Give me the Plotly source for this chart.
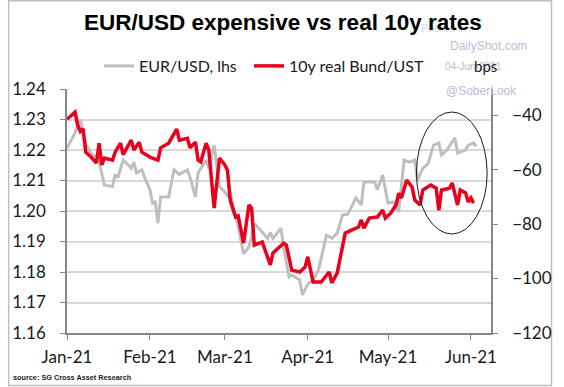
import plotly.graph_objects as go

# EUR/USD (left axis)
eur_dates = ["2021-01-01","2021-01-04","2021-01-06","2021-01-08","2021-01-10","2021-01-12","2021-01-13",
             "2021-01-15","2021-01-18","2021-01-19","2021-01-20","2021-01-22","2021-01-24","2021-01-25",
             "2021-01-26","2021-01-27","2021-01-29","2021-01-30","2021-02-01","2021-02-02","2021-02-03",
             "2021-02-04","2021-02-05","2021-02-08","2021-02-10","2021-02-12","2021-02-15","2021-02-16",
             "2021-02-18","2021-02-19","2021-02-22","2021-02-23","2021-02-25","2021-02-27","2021-03-01",
             "2021-03-02","2021-03-03","2021-03-06","2021-03-08","2021-03-10","2021-03-11","2021-03-12",
             "2021-03-15","2021-03-17","2021-03-18","2021-03-19","2021-03-22","2021-03-23","2021-03-25",
             "2021-03-26","2021-03-29","2021-03-30","2021-04-01","2021-04-03","2021-04-05","2021-04-08",
             "2021-04-10","2021-04-12","2021-04-14","2021-04-16","2021-04-19","2021-04-21","2021-04-22",
             "2021-04-26","2021-04-27","2021-04-29","2021-05-01","2021-05-03","2021-05-05","2021-05-07",
             "2021-05-09","2021-05-11","2021-05-12","2021-05-14","2021-05-16","2021-05-18","2021-05-20",
             "2021-05-21","2021-05-23","2021-05-26","2021-05-27","2021-05-30","2021-05-31","2021-06-02",
             "2021-06-03"]
eur_usd = [1.2206,1.2256,1.2300,1.2220,1.2190,1.2175,1.2160,
           1.2085,1.2080,1.2120,1.2110,1.2167,1.2150,1.2140,
           1.2160,1.2125,1.2135,1.2110,1.2070,1.2026,1.2030,
           1.1960,1.2046,1.2046,1.2135,1.2120,1.2135,1.2110,
           1.2046,1.2125,1.2167,1.2140,1.2216,1.2080,1.2062,
           1.2050,1.2060,1.1948,1.1860,1.1882,1.1915,1.1960,
           1.1930,1.1910,1.1930,1.1910,1.1944,1.1880,1.1784,
           1.1790,1.1774,1.1725,1.1760,1.1774,1.1806,1.1921,
           1.1910,1.1928,1.1987,1.1990,1.2043,1.2020,1.2095,
           1.2095,1.2070,1.2118,1.2026,1.2030,1.1997,1.2167,
           1.2160,1.2167,1.2101,1.2140,1.2155,1.2216,1.2223,
           1.2184,1.2200,1.2240,1.2190,1.2200,1.2216,1.2223,
           1.2212]

# 10y real Bund/UST spread, bps (right axis)
bund_dates = ["2021-01-01","2021-01-04","2021-01-05","2021-01-06","2021-01-07","2021-01-08","2021-01-10",
              "2021-01-12","2021-01-13","2021-01-14","2021-01-15","2021-01-18","2021-01-19","2021-01-21",
              "2021-01-22","2021-01-25","2021-01-26","2021-01-28","2021-01-29","2021-02-01","2021-02-04",
              "2021-02-05","2021-02-08","2021-02-11","2021-02-12","2021-02-15","2021-02-16","2021-02-18",
              "2021-02-19","2021-02-20","2021-02-22","2021-02-23","2021-02-25","2021-02-27","2021-03-01",
              "2021-03-02","2021-03-03","2021-03-05","2021-03-06","2021-03-08","2021-03-10","2021-03-11",
              "2021-03-12","2021-03-15","2021-03-18","2021-03-19","2021-03-23","2021-03-24","2021-03-26",
              "2021-03-29","2021-03-31","2021-04-01","2021-04-03","2021-04-06","2021-04-09","2021-04-10",
              "2021-04-12","2021-04-13","2021-04-15","2021-04-20","2021-04-21","2021-04-22","2021-04-24",
              "2021-04-27","2021-04-29","2021-04-30","2021-05-02","2021-05-04","2021-05-05","2021-05-06",
              "2021-05-08","2021-05-10","2021-05-11","2021-05-13","2021-05-14","2021-05-17","2021-05-19",
              "2021-05-20","2021-05-21","2021-05-24","2021-05-25","2021-05-27","2021-05-28","2021-05-30",
              "2021-05-31","2021-06-01","2021-06-02"]
bund_ust = [-41.5,-38.9,-43.7,-46.0,-45.0,-53.6,-55.4,
            -57.6,-50.3,-58.3,-55.8,-56.5,-53.6,-50.3,
            -54.5,-49.2,-52.8,-50.0,-53.6,-55.4,-56.5,
            -52.0,-50.3,-45.1,-49.2,-48.5,-52.0,-49.9,
            -56.5,-57.2,-50.3,-52.8,-74.1,-55.8,-58.3,
            -60.2,-71.2,-77.4,-77.0,-87.0,-73.0,-74.1,
            -87.7,-86.6,-95.0,-90.6,-87.0,-87.7,-96.9,
            -97.6,-95.8,-92.0,-101.3,-101.3,-97.6,-101.6,
            -98.0,-93.2,-83.3,-81.1,-78.5,-81.5,-77.8,
            -77.4,-74.9,-77.8,-76.0,-73.0,-68.6,-70.4,
            -63.8,-66.4,-71.2,-73.0,-67.5,-65.7,-66.8,
            -74.9,-67.5,-66.8,-64.9,-73.0,-67.5,-68.6,
            -71.9,-70.4,-72.3]

left_ticks = [1.16,1.17,1.18,1.19,1.20,1.21,1.22,1.23,1.24]
right_ticks = [-120,-100,-80,-60,-40]
month_ticks = ["2021-01-01","2021-02-01","2021-03-01","2021-04-01","2021-05-01","2021-06-01"]
month_labels = ["Jan-21","Feb-21","Mar-21","Apr-21","May-21","Jun-21"]

W, H = 564, 387
L, R, T, B = 61, 65, 89, 54
pw, ph = W - L - R, H - T - B

def px(x):
    return (x - L) / pw

def py(y):
    return (H - B - y) / ph

LAB = "Lato"
fig = go.Figure()
fig.add_trace(go.Scatter(x=eur_dates, y=eur_usd, name="EUR/USD, lhs", mode="lines",
                         line=dict(color="#BFBFBF", width=3), yaxis="y", legend="legend"))
fig.add_trace(go.Scatter(x=bund_dates, y=bund_ust, name="10y real Bund/UST", mode="lines",
                         line=dict(color="#E8001C", width=3.5), yaxis="y2", legend="legend2"))

axcol = "#868686"
tf = dict(family=LAB, size=17, color="#1a1a1a")
lg = dict(orientation="h", xanchor="left", yanchor="middle", y=py(66),
          font=dict(family=LAB, size=16, color="#1a1a1a"), bgcolor="rgba(0,0,0,0)")
fig.update_layout(
    width=W, height=H,
    margin=dict(l=L, r=R, t=T, b=B, pad=0),
    paper_bgcolor="white", plot_bgcolor="white",
    font=dict(family=LAB, size=15, color="#1a1a1a"),
    showlegend=True,
    legend=dict(x=px(94), **lg),
    legend2=dict(x=px(249), **lg),
    xaxis=dict(type="date", range=["2021-01-01", "2021-06-08 12:00"],
               tickvals=month_ticks, ticktext=month_labels, showgrid=False,
               showline=True, linecolor=axcol, linewidth=1.5, ticks="outside",
               ticklen=5, tickcolor=axcol, tickfont=tf, ticklabelstandoff=3, zeroline=False),
    yaxis=dict(range=[1.16, 1.24], tickvals=left_ticks, tickformat=".2f",
               showgrid=True, gridcolor="#D9D9D9", gridwidth=1.5,
               showline=True, linecolor=axcol, linewidth=1.5, ticks="outside",
               ticklen=5, tickcolor=axcol, tickfont=tf, ticklabelstandoff=11, zeroline=False),
    yaxis2=dict(range=[-120, -30.4], tickvals=right_ticks, overlaying="y", side="right",
                showgrid=False, showline=True, linecolor=axcol, linewidth=1.5,
                ticks="outside", ticklen=5, tickcolor=axcol,
                tickfont=tf, ticklabelstandoff=11, zeroline=False),
)

# outer border
fig.add_shape(type="rect", xref="paper", yref="paper",
              x0=px(0.75), x1=px(561.5), y0=py(385.5), y1=py(0.75),
              line=dict(color="#BFBFBF", width=1.5), layer="below")
# ellipse highlight
fig.add_shape(type="circle", xref="paper", yref="paper",
              x0=px(422), x1=px(495), y0=py(234), y1=py(112),
              line=dict(color="#1a1a1a", width=1))

wm = "#B7BDD3"
anns = [
    dict(text="Posted on", x=px(452), y=py(28), font=dict(family="Liberation Sans", size=11, color="#D5D8E4")),
    dict(text="<b>EUR/USD expensive vs real 10y rates</b>", x=px(284), y=py(22),
         font=dict(family="Liberation Sans", size=22.5, color="#000000")),
    dict(text="DailyShot.com", x=px(496), y=py(46), font=dict(family="Liberation Sans", size=12, color=wm)),
    dict(text="04-Jun-2021", x=px(481), y=py(66), font=dict(family="Liberation Sans", size=10, color=wm)),
    dict(text="bps", x=px(493), y=py(66), font=dict(family=LAB, size=15, color="#1a1a1a")),
    dict(text="@SoberLook", x=px(489), y=py(91), font=dict(family="Liberation Sans", size=12, color=wm)),
]
for a in anns:
    fig.add_annotation(xref="paper", yref="paper", showarrow=False, xanchor="center", yanchor="middle", **a)
fig.add_annotation(xref="paper", yref="paper", showarrow=False, xanchor="left", yanchor="middle",
                   x=px(3), y=py(377), text="<b>source: SG Cross Asset Research</b>",
                   font=dict(family="Liberation Sans Narrow, Liberation Sans", size=7.3, color="#1a1a1a"))

fig.write_html("out.html", config={"displayModeBar": False},
               post_script="document.body.style.margin='0';document.body.style.padding='0';document.body.style.overflow='hidden';")
